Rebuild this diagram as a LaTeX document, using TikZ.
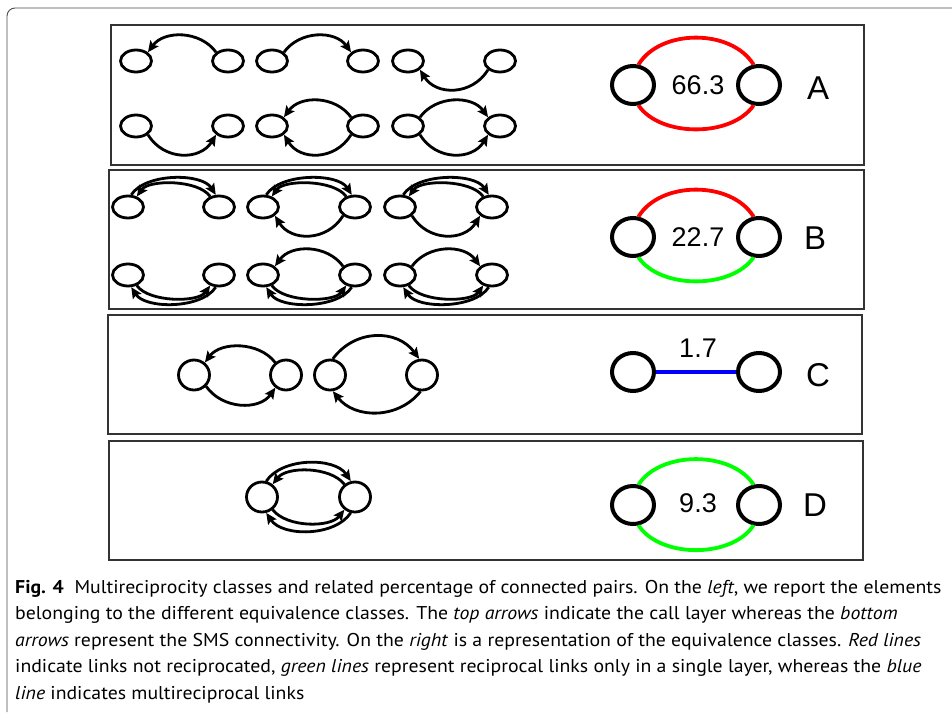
\documentclass[tikz,border=0pt]{standalone}
\usepackage{fontspec}
\setmainfont{Liberation Sans}
\newfontfamily\capfont{PT Sans}[FakeStretch=1.07]
\usepackage{tikz}
\usetikzlibrary{shapes.geometric}
\usetikzlibrary{arrows.meta}
\usetikzlibrary{positioning}

\begin{document}
\begin{tikzpicture}[x=1pt, y=-1pt,
  panel/.style={draw=black!80, line width=2pt},
  pnode/.style={draw, ellipse, line width=2.8pt, minimum width=31pt, minimum height=22pt, inner sep=0pt},
  cnode/.style={pnode, minimum width=31pt, minimum height=30pt},
  bignode/.style={draw, ellipse, line width=4pt, minimum width=42pt, minimum height=38pt, inner sep=0pt},
  link/.style={line width=2.8pt, -{Stealth[length=11pt, width=10pt, inset=2pt]}},
  classline/.style={line width=3.8pt},
  numtext/.style={font=\fontsize{27}{30}\selectfont, inner sep=0pt},
  lettext/.style={font=\fontsize{33}{36}\selectfont, inner sep=0pt}]
\useasboundingbox (0,0) rectangle (952,712);
\fill[white] (0,0) rectangle (952,712);
\draw[black!70, line width=0.9pt, rounded corners=8pt] (7,712) -- (7,8) -- (952,8);

\draw[panel] (111,25) rectangle (864,165);
\draw[panel] (109,170) rectangle (864,309);
\draw[panel] (108,315) rectangle (862,434);
\draw[panel] (109,441) rectangle (863,560);

% class A
\node[pnode] (a11) at (136,61) {};
\node[pnode] (a12) at (228,61) {};
\node[pnode] (a21) at (272,61) {};
\node[pnode] (a22) at (363,61) {};
\node[pnode] (a31) at (408,61) {};
\node[pnode] (a32) at (500,61) {};
\node[pnode] (a41) at (136,126) {};
\node[pnode] (a42) at (228,126) {};
\node[pnode] (a51) at (272,126) {};
\node[pnode] (a52) at (363,126) {};
\node[pnode] (a61) at (408,126) {};
\node[pnode] (a62) at (500,126) {};
\draw[link] (a12.north west) .. controls +(-16,-22) and +(16,-22) .. (a11.north east);
\draw[link] (a21.north east) .. controls +(16,-22) and +(-16,-22) .. (a22.north west);
\draw[link] (a32.south west) .. controls +(-16,26) and +(16,26) .. (a31.south east);
\draw[link] (a41.south east) .. controls +(16,26) and +(-16,26) .. (a42.south west);
\draw[link] (a52.north west) .. controls +(-16,-22) and +(16,-22) .. (a51.north east);
\draw[link] (a52.south west) .. controls +(-16,26) and +(16,26) .. (a51.south east);
\draw[link] (a61.north east) .. controls +(16,-22) and +(-16,-22) .. (a62.north west);
\draw[link] (a61.south east) .. controls +(16,26) and +(-16,26) .. (a62.south west);

% class B
\node[pnode] (b11) at (128,207) {};
\node[pnode] (b12) at (219,207) {};
\node[pnode] (b21) at (263,207) {};
\node[pnode] (b22) at (355,207) {};
\node[pnode] (b31) at (400,207) {};
\node[pnode] (b32) at (492,207) {};
\node[pnode] (b41) at (128,275) {};
\node[pnode] (b42) at (219,275) {};
\node[pnode] (b51) at (263,275) {};
\node[pnode] (b52) at (355,275) {};
\node[pnode] (b61) at (400,275) {};
\node[pnode] (b62) at (492,275) {};
\draw[link] (b11.75) .. controls +(14,-22) and +(-14,-22) .. (b12.105);
\draw[link] (b12.130) .. controls +(-12,-17) and +(12,-17) .. (b11.50);
\draw[link] (b21.75) .. controls +(14,-22) and +(-14,-22) .. (b22.105);
\draw[link] (b22.130) .. controls +(-12,-17) and +(12,-17) .. (b21.50);
\draw[link] (b22.south west) .. controls +(-16,26) and +(16,26) .. (b21.south east);
\draw[link] (b31.75) .. controls +(14,-22) and +(-14,-22) .. (b32.105);
\draw[link] (b32.130) .. controls +(-12,-17) and +(12,-17) .. (b31.50);
\draw[link] (b31.south east) .. controls +(16,26) and +(-16,26) .. (b32.south west);
\draw[link] (b41.-50) .. controls +(12,17) and +(-12,17) .. (b42.-130);
\draw[link] (b42.-105) .. controls +(-14,22) and +(14,22) .. (b41.-75);
\draw[link] (b52.north west) .. controls +(-16,-22) and +(16,-22) .. (b51.north east);
\draw[link] (b51.-50) .. controls +(12,17) and +(-12,17) .. (b52.-130);
\draw[link] (b52.-105) .. controls +(-14,22) and +(14,22) .. (b51.-75);
\draw[link] (b61.north east) .. controls +(16,-22) and +(-16,-22) .. (b62.north west);
\draw[link] (b61.-50) .. controls +(12,17) and +(-12,17) .. (b62.-130);
\draw[link] (b62.-105) .. controls +(-14,22) and +(14,22) .. (b61.-75);

% class C
\node[cnode] (c11) at (194,375) {};
\node[cnode] (c12) at (286,375) {};
\node[cnode] (c21) at (330,375) {};
\node[cnode] (c22) at (422,375) {};
\draw[link] (c12.131) .. controls +(-16,-21) and +(16,-21) .. (c11.49);
\draw[link] (c11.-43) .. controls +(16,23) and +(-16,23) .. (c12.-130);
\draw[link] (c21.80) .. controls +(22,-30) and +(-22,-30) .. (c22.100);
\draw[link] (c22.-95) .. controls +(-22,28) and +(22,28) .. (c21.-80);

% class D
\node[cnode] (d11) at (262,497) {};
\node[cnode] (d12) at (355,497) {};
\draw[link] (d11.75) .. controls +(16,-24) and +(-16,-24) .. (d12.105);
\draw[link] (d12.130) .. controls +(-14,-18) and +(14,-18) .. (d11.50);
\draw[link] (d11.-50) .. controls +(14,18) and +(-14,18) .. (d12.-130);
\draw[link] (d12.-105) .. controls +(-16,24) and +(16,24) .. (d11.-75);

% equivalence classes
\node[bignode] (A1) at (633,85) {};
\node[bignode] (A2) at (759,85) {};
\node[numtext] (A3) at (698,85) {66.3};
\node[lettext] (A4) at (818,88) {A};
\draw[classline, red] (A1.75) .. controls +(22,-36) and +(-22,-36) .. (A2.105);
\draw[classline, red] (A1.-75) .. controls +(22,32) and +(-22,32) .. (A2.-105);

\node[bignode] (B1) at (633,237) {};
\node[bignode] (B2) at (759,237) {};
\node[numtext] (B3) at (698,237) {22.7};
\node[lettext] (B4) at (815,238) {B};
\draw[classline, red] (B1.75) .. controls +(22,-36) and +(-22,-36) .. (B2.105);
\draw[classline, green] (B1.-75) .. controls +(22,32) and +(-22,32) .. (B2.-105);

\node[bignode] (C1) at (633,372) {};
\node[bignode] (C2) at (759,372) {};
\node[numtext] (C3) at (698,348) {1.7};
\node[lettext] (C4) at (818,375) {C};
\draw[classline, blue] (C1) -- (C2);

\node[bignode] (D1) at (633,505) {};
\node[bignode] (D2) at (759,505) {};
\node[numtext] (D3) at (698,503) {9.3};
\node[lettext] (D4) at (815,505) {D};
\draw[classline, green] (D1.75) .. controls +(22,-34) and +(-22,-34) .. (D2.105);
\draw[classline, green] (D1.-75) .. controls +(22,33) and +(-22,33) .. (D2.-105);

% caption
\node[anchor=north west, align=left, inner sep=0pt, font={\capfont\fontsize{18.5}{26.5}\selectfont}] (cap) at (15,580)
{\textbf{Fig. 4}\ \ Multireciprocity classes and related percentage of connected pairs. On the \textit{left}, we report the elements\\
belonging to the different equivalence classes. The \textit{top arrows} indicate the call layer whereas the \textit{bottom}\\
\textit{arrows} represent the SMS connectivity. On the \textit{right} is a representation of the equivalence classes. \textit{Red lines}\\
indicate links not reciprocated, \textit{green lines} represent reciprocal links only in a single layer, whereas the \textit{blue}\\
\textit{line} indicates multireciprocal links};
\end{tikzpicture}
\end{document}
